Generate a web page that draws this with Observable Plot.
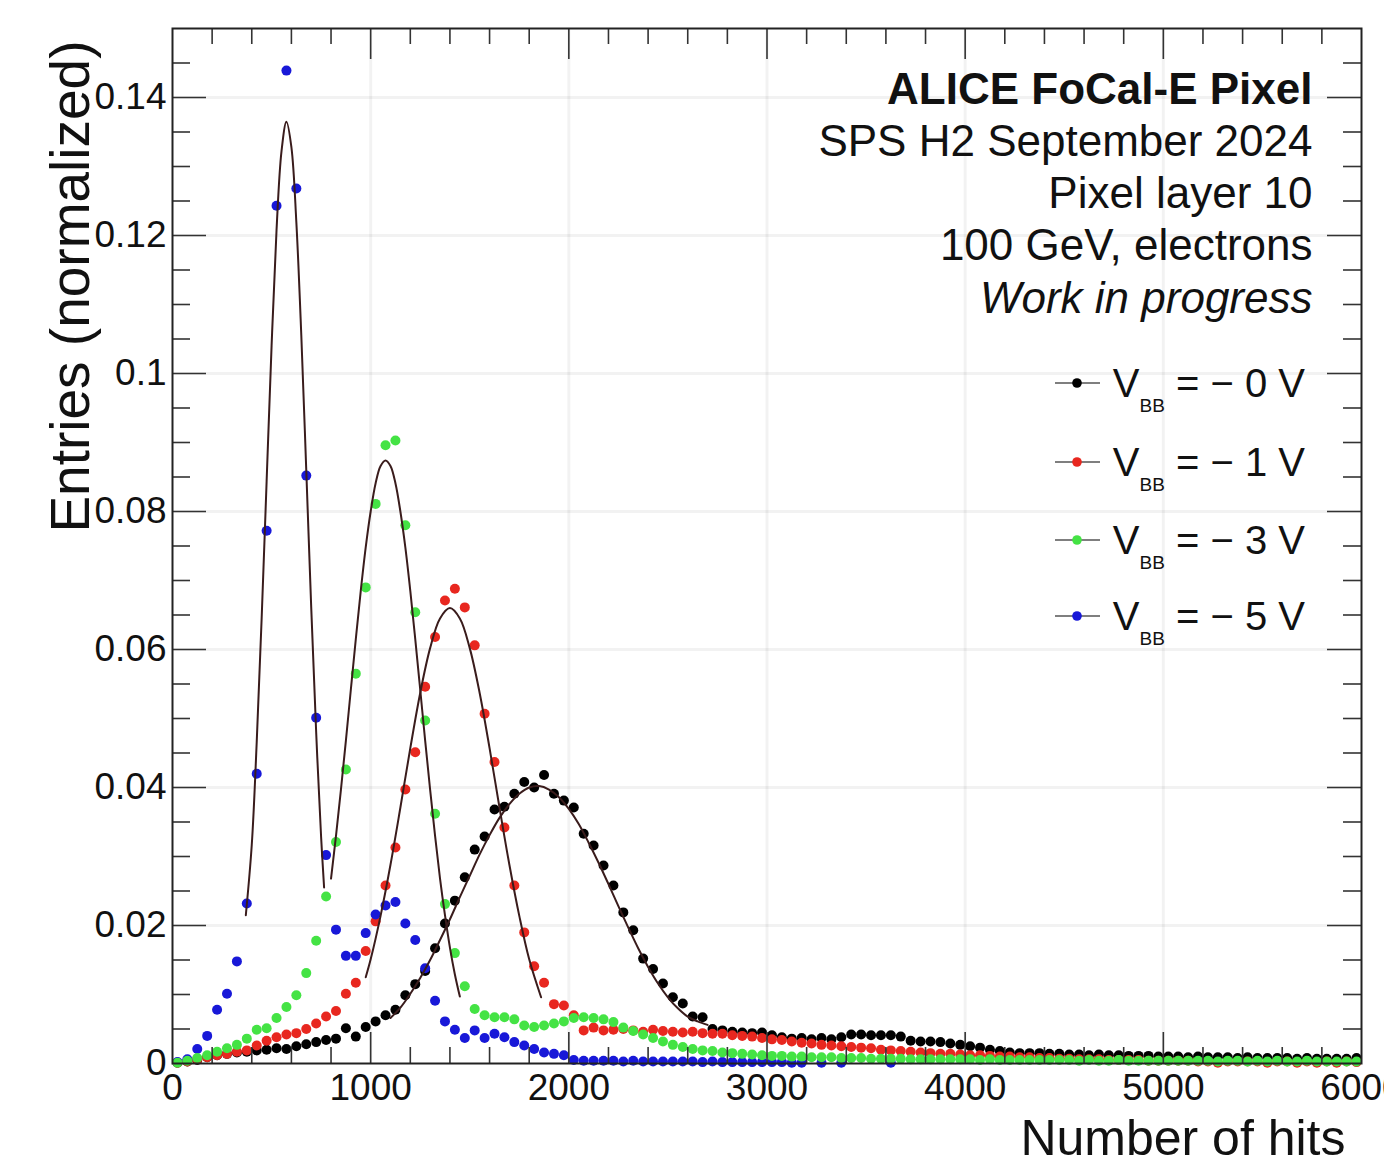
<!DOCTYPE html>
<html>
<head>
<meta charset="utf-8">
<script src="https://cdn.jsdelivr.net/npm/d3@7"></script>
<script src="https://cdn.jsdelivr.net/npm/@observablehq/plot@0.6"></script>
<style>
  body { margin: 0; background: #fff; }
  #wrap { position: relative; width: 1384px; height: 1165px; overflow: hidden; }
  #wrap svg { position: absolute; left: 0; top: 0; }
</style>
</head>
<body>
<div id="wrap"></div>
<script>
// ---------- data ----------
const binCenters = d3.range(25, 6000, 50); // 50-hit wide bins, 0..6000

const blackVals = [
 .0001,.0003,.0005,.0009,.0012,.0014,.0016,.0017,.0019,.0020,
 .0022,.0021,.0025,.0028,.0031,.0034,.0036,.0051,.0039,.0053,
 .0061,.0070,.0078,.0099,.0115,.0134,.0167,.0203,.0236,.0270,
 .0310,.0329,.0368,.0372,.0391,.0408,.0400,.0418,.0391,.0381,
 .0371,.0333,.0316,.0287,.0258,.0219,.0193,.0152,.0137,.0116,
 .0096,.0087,.0068,.0067,.0050,.0048,.0046,.0045,.0044,.0045,
 .0041,.0038,.0036,.0037,.0035,.0037,.0035,.0038,.0042,.0042,
 .0041,.0041,.0041,.0039,.0033,.0032,.0032,.0031,.0029,.0027,
 .0025,.0023,.0020,.0018,.0016,.0015,.0015,.0015,.0014,.0014,
 .0013,.0013,.0012,.0013,.0012,.0012,.0011,.0011,.0011,.0010,
 .0010,.0010,.0009,.0010,.0009,.0009,.0009,.0008,.0009,.0008,
 .0008,.0008,.0008,.0007,.0008,.0007,.0007,.0007,.0007,.0008];

const redVals = [
 .0001,.0003,.0006,.0009,.0012,.0014,.0017,.0019,.0026,.0033,
 .0038,.0042,.0044,.0050,.0058,.0068,.0076,.0101,.0117,.0163,
 .0206,.0258,.0313,.0397,.0451,.0546,.0618,.0671,.0688,.0661,
 .0606,.0507,.0437,.0342,.0258,.0190,.0141,.0117,.0086,.0084,
 .0070,.0048,.0052,.0048,.0049,.0050,.0048,.0046,.0049,.0047,
 .0046,.0045,.0046,.0044,.0043,.0043,.0041,.0040,.0039,.0037,
 .0035,.0034,.0032,.0030,.0029,.0027,.0026,.0025,.0024,.0023,
 .0022,.0020,.0019,.0018,.0017,.0016,.0015,.0014,.0014,.0013,
 .0012,.0012,.0011,.0010,.0010,.0009,.0009,.0008,.0008,.0007,
 .0007,.0006,.0006,.0006,.0005,.0005,.0005,.0005,.0004,.0004,
 .0004,.0004,.0004,.0003,.0003,.0001,.0003,.0003,.0003,.0003,
 .0001,.0003,.0003,.0001,.0003,.0001,.0003,.0001,.0003,.0002];

const greenVals = [
 .0001,.0004,.0008,.0012,.0017,.0022,.0027,.0036,.0049,.0051,
 .0066,.0082,.0099,.0131,.0178,.0242,.0321,.0426,.0565,.0690,
 .0811,.0896,.0903,.0780,.0654,.0497,.0362,.0231,.0160,.0112,
 .0079,.0070,.0067,.0067,.0064,.0055,.0053,.0055,.0058,.0061,
 .0066,.0067,.0066,.0064,.0060,.0052,.0047,.0042,.0037,.0032,
 .0027,.0024,.0021,.0019,.0018,.0016,.0015,.0014,.0013,.0012,
 .0011,.0011,.0010,.0010,.0009,.0009,.0009,.0008,.0008,.0008,
 .0007,.0007,.0007,.0007,.0006,.0006,.0006,.0006,.0006,.0006,
 .0006,.0005,.0006,.0005,.0005,.0005,.0005,.0005,.0005,.0005,
 .0005,.0004,.0005,.0004,.0004,.0005,.0004,.0004,.0004,.0004,
 .0004,.0004,.0004,.0004,.0004,.0003,.0004,.0004,.0003,.0004,
 .0003,.0004,.0003,.0003,.0004,.0003,.0003,.0003,.0003,.0003];

const blueVals = [
 .0002,.0006,.0021,.0040,.0078,.0101,.0148,.0232,.0420,.0772,
 .1243,.1439,.1268,.0852,.0501,.0302,.0194,.0156,.0156,.0189,
 .0216,.0229,.0234,.0203,.0179,.0138,.0091,.0061,.0049,.0037,
 .0048,.0037,.0043,.0038,.0031,.0026,.0021,.0016,.0014,.0012,
 .0005,.0004,.0004,.0004,.0004,.0003,.0004,.0003,.0003,.0003,
 .0003,.0003,.0003,.0002,.0003,.0002,.0002,.0002,.0002,.0002,
 .0002,.0002,.0001,.0001,null,.0001,null,.0001,null,null,
 null,null,.0001,null,null,null,null,null,null,null];

// fitted curves: [hits, entries]
const blueFit = [[370,.0215],[400,.0317],[425,.0466],[450,.0646],[475,.0844],[500,.104],[525,.1208],[550,.1322],[575,.1365],[600,.1328],[625,.1219],[650,.1055],[675,.086],[700,.0661],[725,.048],[750,.0328],[765,.0255]];
const greenFit = [[800,.0268],[825,.033],[850,.0397],[875,.0468],[900,.0542],[925,.0615],[950,.0685],[975,.0748],[1000,.080],[1025,.0841],[1050,.0866],[1075,.0874],[1100,.0866],[1125,.0841],[1150,.080],[1175,.0748],[1200,.0685],[1225,.0615],[1250,.0542],[1275,.0468],[1300,.0397],[1325,.033],[1350,.0268],[1375,.0215],[1400,.0168],[1425,.0129],[1450,.0097]];
const redFit = [[975,.0125],[1000,.0151],[1050,.0214],[1100,.0288],[1150,.0371],[1200,.0457],[1250,.0537],[1300,.0602],[1350,.0645],[1400,.066],[1450,.0645],[1500,.0602],[1550,.0537],[1600,.0457],[1650,.0371],[1700,.0288],[1750,.0214],[1800,.0151],[1860,.0096]];
const blackFit = [[1100,.0066],[1150,.0081],[1200,.0101],[1250,.0124],[1300,.015],[1350,.0179],[1400,.0209],[1450,.0241],[1500,.0272],[1550,.0303],[1600,.0331],[1650,.0356],[1700,.0376],[1750,.0391],[1800,.04],[1850,.0402],[1900,.0397],[1950,.0386],[2000,.0369],[2050,.0347],[2100,.032],[2150,.0291],[2200,.026],[2250,.0228],[2300,.0197],[2350,.0167],[2400,.014],[2450,.0116],[2500,.0096],[2550,.008],[2600,.0068],[2650,.0061],[2700,.0056]];

const xTickValues = [0, 1000, 2000, 3000, 4000, 5000, 6000];
const xMinorTicks = [200,400,600,800,1200,1400,1600,1800,2200,2400,2600,2800,3200,3400,3600,3800,4200,4400,4600,4800,5200,5400,5600,5800];
const yTickValues = [0, 0.02, 0.04, 0.06, 0.08, 0.1, 0.12, 0.14];
const yTickLabels = ["0", "0.02", "0.04", "0.06", "0.08", "0.1", "0.12", "0.14"];
const yMinorTicks = [.005,.01,.015,.025,.03,.035,.045,.05,.055,.065,.07,.075,.085,.09,.095,.105,.11,.115,.125,.13,.135,.145];

const infoLines = ["ALICE FoCal-E Pixel", "SPS H2 September 2024", "Pixel layer 10", "100 GeV, electrons", "Work in progress"];
const legendVolts = ["0", "1", "3", "5"];
const seriesColors = ["#000000", "#e8271f", "#44e344", "#1818d8"];
const fitColor = "#3a1c1c";

// ---------- build ----------
const W = 1384, H = 1165;
const mL = 172, mR = 23, mT = 28, mB = 102;
const FW = W - mL - mR, FH = H - mT - mB;
const font = "'Liberation Sans', Arial, Helvetica, sans-serif";

function pts(vals) {
  return vals.map((v, i) => ({x: binCenters[i], y: v})).filter(d => d.y != null);
}

const dotsOf = (vals, color) => Plot.dot(pts(vals), {x: "x", y: "y", r: 5, fill: color, stroke: "none"});
const fitOf = (arr) => Plot.line(arr, {x: d => d[0], y: d => d[1], curve: "catmull-rom", stroke: fitColor, strokeWidth: 2});
const info = (i, dy, extra = {}) => Plot.text([infoLines[i]], {text: d => d, frameAnchor: "top-right", textAnchor: "end", dx: -49, dy, fontSize: 44, fill: "#111", ...extra});

const chart = Plot.plot({
  width: W, height: H,
  marginLeft: mL, marginRight: mR, marginTop: mT, marginBottom: mB,
  style: {fontFamily: font, fontSize: "37px", color: "#111", background: "transparent", overflow: "visible"},
  x: {domain: [0, 6000]},
  y: {domain: [0, 0.15]},
  marks: [
    // faint grid
    Plot.ruleX(xTickValues.slice(1, -1), {x: d => d, stroke: "#000", strokeOpacity: 0.05, strokeWidth: 3}),
    Plot.ruleY(yTickValues.slice(1), {y: d => d, stroke: "#000", strokeOpacity: 0.05, strokeWidth: 3}),
    // data points
    dotsOf(blackVals, seriesColors[0]),
    dotsOf(redVals, seriesColors[1]),
    dotsOf(blueVals, seriesColors[3]),
    dotsOf(greenVals, seriesColors[2]),
    // fits
    fitOf(blueFit), fitOf(greenFit), fitOf(redFit), fitOf(blackFit),
    // inward ticks (ROOT style)
    Plot.tickX(xTickValues.slice(1, -1), {x: d => d, insetTop: FH - 31, stroke: "#333", strokeWidth: 1.6}),
    Plot.tickX(xTickValues.slice(1, -1), {x: d => d, insetBottom: FH - 31, stroke: "#333", strokeWidth: 1.6}),
    Plot.tickX(xMinorTicks, {x: d => d, insetTop: FH - 16, stroke: "#333", strokeWidth: 1.6}),
    Plot.tickX(xMinorTicks, {x: d => d, insetBottom: FH - 16, stroke: "#333", strokeWidth: 1.6}),
    Plot.tickY(yTickValues.slice(1), {y: d => d, insetRight: FW - 34, stroke: "#333", strokeWidth: 1.6}),
    Plot.tickY(yTickValues.slice(1), {y: d => d, insetLeft: FW - 34, stroke: "#333", strokeWidth: 1.6}),
    Plot.tickY(yMinorTicks, {y: d => d, insetRight: FW - 18, stroke: "#333", strokeWidth: 1.6}),
    Plot.tickY(yMinorTicks, {y: d => d, insetLeft: FW - 18, stroke: "#333", strokeWidth: 1.6}),
    Plot.frame({stroke: "#222", strokeWidth: 2}),
    // axes labels
    Plot.axisX({ticks: xTickValues, tickSize: 0, tickPadding: 10, tickFormat: d => String(d), label: null, fontSize: 37}),
    Plot.axisY({ticks: yTickValues, tickSize: 0, tickPadding: 6, tickFormat: d => yTickLabels[yTickValues.indexOf(d)], label: null, fontSize: 37}),
    // axis titles
    Plot.text(["Number of hits"], {text: d => d, frameAnchor: "bottom-right", textAnchor: "end", dx: -16, dy: 91, fontSize: 50, fill: "#111"}),
    Plot.text(["Entries (normalized)"], {text: d => d, frameAnchor: "top-left", textAnchor: "end", rotate: -90, dx: -123, dy: 12, fontSize: 55, fill: "#111"}),
    // info block
    info(0, 44, {fontWeight: "bold"}),
    info(1, 96),
    info(2, 148),
    info(3, 200),
    info(4, 253, {fontStyle: "italic"})
  ]
});

const wrap = document.getElementById("wrap");
wrap.appendChild(chart);

// ---------- legend overlay ----------
const ns = "http://www.w3.org/2000/svg";
const leg = document.createElementNS(ns, "svg");
leg.setAttribute("width", W); leg.setAttribute("height", H);
leg.style.fontFamily = font;
const rowY = [383, 462, 540, 616];
legendVolts.forEach((v, i) => {
  const y = rowY[i];
  const line = document.createElementNS(ns, "line");
  line.setAttribute("x1", 1055); line.setAttribute("x2", 1100);
  line.setAttribute("y1", y); line.setAttribute("y2", y);
  line.setAttribute("stroke", "#555"); line.setAttribute("stroke-width", 1.5);
  leg.appendChild(line);
  const c = document.createElementNS(ns, "circle");
  c.setAttribute("cx", 1077); c.setAttribute("cy", y); c.setAttribute("r", 4.8);
  c.setAttribute("fill", seriesColors[i]);
  leg.appendChild(c);
  const t = document.createElementNS(ns, "text");
  t.setAttribute("x", 1305); t.setAttribute("y", y + 14);
  t.setAttribute("text-anchor", "end"); t.setAttribute("font-size", 40);
  t.setAttribute("fill", "#111");
  t.setAttribute("style", "white-space: pre");
  t.innerHTML = `V<tspan font-size="19" dy="15">BB</tspan><tspan dy="-15"> = − ${v} V</tspan>`;
  leg.appendChild(t);
});
wrap.appendChild(leg);
</script>
</body>
</html>
